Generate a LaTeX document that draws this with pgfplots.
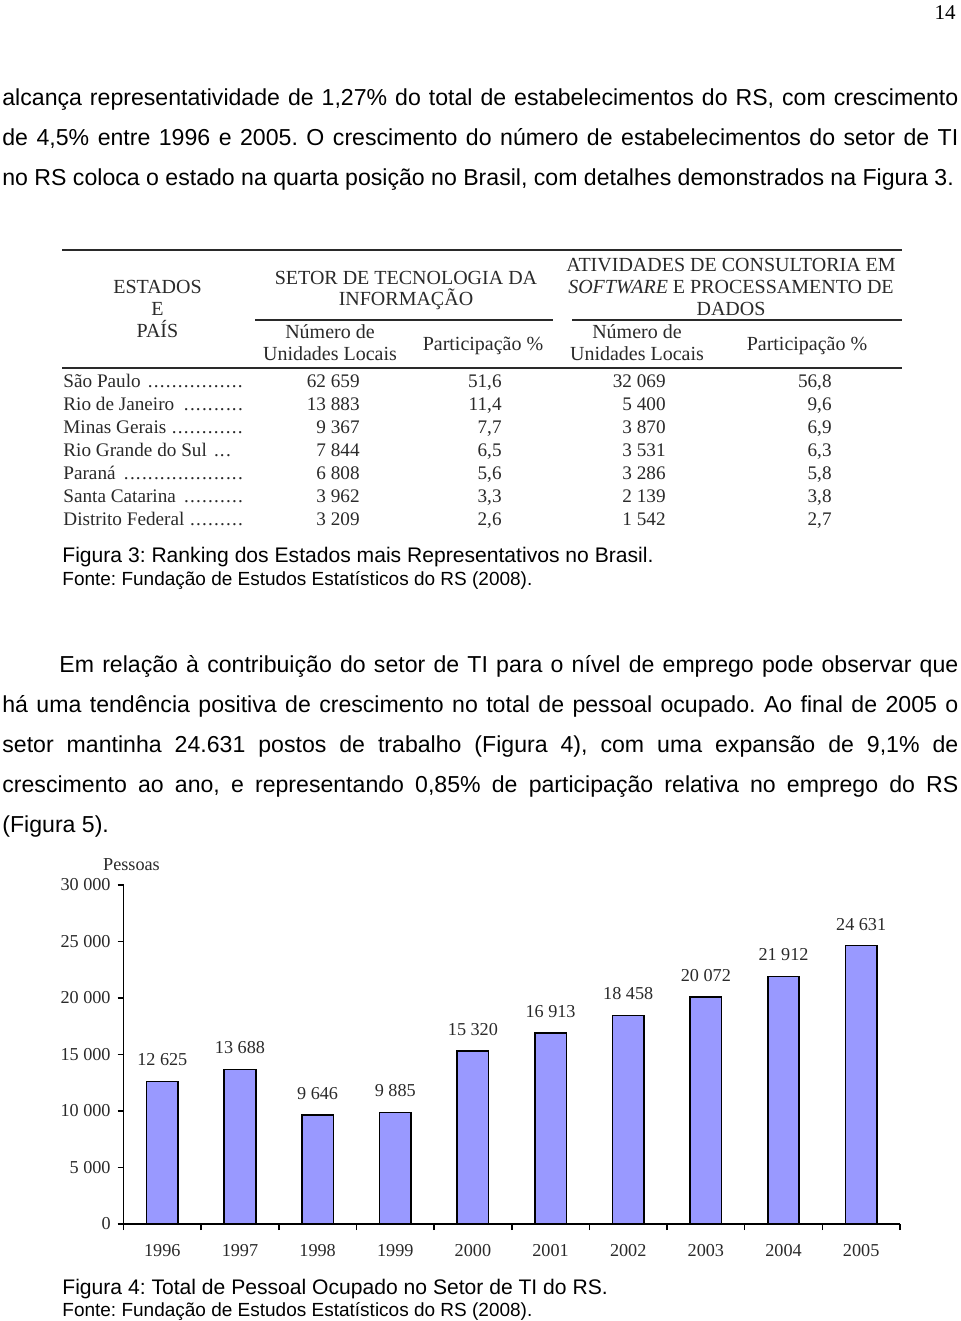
\documentclass[border=0pt]{standalone}
\usepackage{fontspec}
\setmainfont{Liberation Sans}
\newfontfamily\tnr{Liberation Serif}
\usepackage{pgfplots}
\pgfplotsset{compat=1.18}
\definecolor{barblue}{HTML}{9999FF}
\definecolor{tabtext}{HTML}{2A2A2A}
\frenchspacing

\newcommand\rowname[4]{\node[anchor=base west] at (63,#1) {\makebox[#2][l]{#3 \leaders\hbox to 3pt{\hss.\hss}\hfill}};}
\newcommand\trow[5]{%
  \node[anchor=base east] at (360,#1) {#2};
  \node[anchor=base east] at (502,#1) {#3};
  \node[anchor=base east] at (666,#1) {#4};
  \node[anchor=base east] at (832,#1) {#5};}

\begin{document}
\begin{tikzpicture}[x=0.5pt,y=-0.5pt]
\path[fill=white] (0,0) rectangle (960,1321);
% page number
\node[anchor=base east,inner sep=0pt,font=\tnr\fontsize{10.5}{12}\selectfont] at (956,20) {14};

% body text
\begin{scope}[every node/.style={anchor=base west,inner sep=0pt,font=\fontsize{11.55}{13}\selectfont}]
\node at (2,106) {\makebox[478pt][s]{alcança representatividade de 1,27\% do total de estabelecimentos do RS, com crescimento}};
\node at (2,146) {\makebox[478pt][s]{de 4,5\% entre 1996 e 2005. O crescimento do número de estabelecimentos do setor de TI}};
\node at (2,186) {no RS coloca o estado na quarta posição no Brasil, com detalhes demonstrados na Figura 3.};
\node at (59,672) {\makebox[449.5pt][s]{Em relação à contribuição do setor de TI para o nível de emprego pode observar que}};
\node at (2,712) {\makebox[478pt][s]{há uma tendência positiva de crescimento no total de pessoal ocupado. Ao final de 2005 o}};
\node at (2,752) {\makebox[478pt][s]{setor mantinha 24.631 postos de trabalho (Figura 4), com uma expansão de 9,1\% de}};
\node at (2,792) {\makebox[478pt][s]{crescimento ao ano, e representando 0,85\% de participação relativa no emprego do RS}};
\node at (2,832) {(Figura 5).};
\end{scope}

% captions
\begin{scope}[every node/.style={anchor=base west,inner sep=0pt}]
\node[font=\fontsize{10.55}{12}\selectfont] at (62,562) {Figura 3: Ranking dos Estados mais Representativos no Brasil.};
\node[font=\fontsize{9.5}{11}\selectfont] at (62,585) {Fonte: Fundação de Estudos Estatísticos do RS (2008).};
\node[font=\fontsize{10.55}{12}\selectfont] at (62,1294) {Figura 4: Total de Pessoal Ocupado no Setor de TI do RS.};
\node[font=\fontsize{9.5}{11}\selectfont] at (62,1316) {Fonte: Fundação de Estudos Estatísticos do RS (2008).};
\end{scope}

% table (Figura 3)
\begin{scope}[text=tabtext, every node/.style={inner sep=0pt, font=\tnr\fontsize{10}{12}\selectfont}]
\draw[tabtext, line width=1pt] (62,250) -- (902,250);
\draw[tabtext, line width=0.9pt] (255,320) -- (553,320);
\draw[tabtext, line width=0.9pt] (572,320) -- (902,320);
\draw[tabtext, line width=1.4pt] (62,368) -- (902,368);
\node[anchor=base] at (157.5,293) {ESTADOS};
\node[anchor=base] at (157.5,315) {E};
\node[anchor=base] at (157.5,337) {PAÍS};
\node[anchor=base] at (406,284) {SETOR DE TECNOLOGIA DA};
\node[anchor=base] at (406,305) {INFORMAÇÃO};
\node[anchor=base] at (731,271) {ATIVIDADES DE CONSULTORIA EM};
\node[anchor=base] at (731,293) {\textit{SOFTWARE} E PROCESSAMENTO DE};
\node[anchor=base] at (731,315) {DADOS};
\node[anchor=base] at (330,338) {Número de};
\node[anchor=base] at (330,360) {Unidades Locais};
\node[anchor=base] at (483,350) {Participação \%};
\node[anchor=base] at (637,338) {Número de};
\node[anchor=base] at (637,360) {Unidades Locais};
\node[anchor=base] at (807,350) {Participação \%};
\end{scope}
\begin{scope}[text=tabtext, every node/.style={inner sep=0pt, font=\tnr\fontsize{9.6}{12}\selectfont}]
\rowname{387}{92pt}{São Paulo}{}
\rowname{410}{92pt}{Rio de Janeiro}{}
\rowname{433}{92pt}{Minas Gerais}{}
\rowname{456}{85pt}{Rio Grande do Sul}{}
\rowname{479}{92pt}{Paraná}{}
\rowname{502}{92pt}{Santa Catarina}{}
\rowname{525}{92pt}{Distrito Federal}{}
\trow{387}{62 659}{51,6}{32 069}{56,8}
\trow{410}{13 883}{11,4}{5 400}{9,6}
\trow{433}{9 367}{7,7}{3 870}{6,9}
\trow{456}{7 844}{6,5}{3 531}{6,3}
\trow{479}{6 808}{5,6}{3 286}{5,8}
\trow{502}{3 962}{3,3}{2 139}{3,8}
\trow{525}{3 209}{2,6}{1 542}{2,7}
\end{scope}

% chart (Figura 4)
\node[anchor=base, inner sep=0pt, font=\tnr\fontsize{9.1}{11}\selectfont, text=tabtext] at (131.5,870) {Pessoas};
\begin{axis}[
  at={(61.75pt,-612pt)}, anchor=south west,
  scale only axis, width=388.25pt, height=169.5pt,
  xmin=-0.5, xmax=9.5, ymin=0, ymax=30000,
  scaled y ticks=false,
  axis x line*=bottom, axis y line*=left,
  axis line style={line width=0.75pt, black},
  tick align=outside,
  xtick={0,1,2,3,4,5,6,7,8,9},
  xticklabels={1996,1997,1998,1999,2000,2001,2002,2003,2004,2005},
  minor xtick={-0.5,0.5,1.5,2.5,3.5,4.5,5.5,6.5,7.5,8.5,9.5},
  major x tick style={draw=none},
  minor x tick style={line width=0.75pt, black},
  minor tick length=3pt,
  ytick={0,5000,10000,15000,20000,25000,30000},
  yticklabels={0,5 000,10 000,15 000,20 000,25 000,30 000},
  major tick length=3pt,
  y tick style={line width=0.75pt, black},
  tick label style={font=\tnr\fontsize{9.1}{11}\selectfont, text=tabtext},
  xticklabel style={anchor=base, inner sep=0pt, yshift=-13pt},
  yticklabel style={anchor=east, inner sep=0pt, xshift=-3.25pt},
  ybar, bar width=15.75pt,
  clip=false,
  nodes near coords,
  point meta=explicit symbolic,
  every node near coord/.append style={inner sep=0pt, yshift=7.25pt, font=\tnr\fontsize{9.1}{11}\selectfont, text=tabtext},
]
\addplot[fill=barblue, draw=black, line width=0.8pt] coordinates {
  (0,12625) [12 625]
  (1,13688) [13 688]
  (2,9646)  [9 646]
  (3,9885)  [9 885]
  (4,15320) [15 320]
  (5,16913) [16 913]
  (6,18458) [18 458]
  (7,20072) [20 072]
  (8,21912) [21 912]
  (9,24631) [24 631]
};
\end{axis}
\end{tikzpicture}
\end{document}
